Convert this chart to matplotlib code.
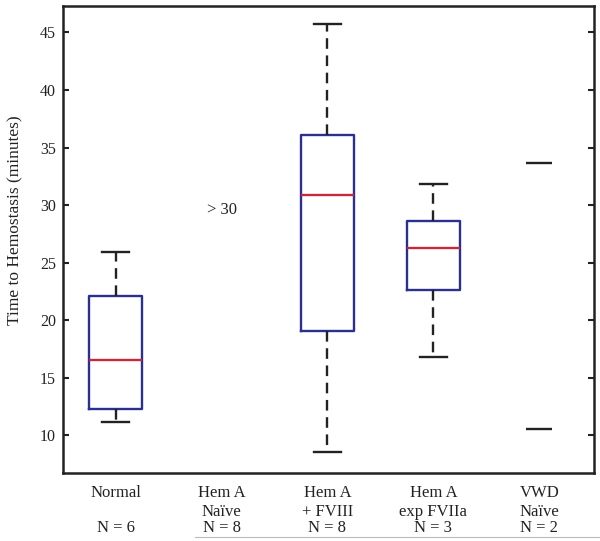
import matplotlib
matplotlib.use("Agg")
import matplotlib.pyplot as plt

# --- Data ---
groups = ['Normal', 'Hem A\nNaïve', 'Hem A\n+ FVIII', 'Hem A\nexp FVIIa', 'VWD\nNaïve']
n_labels = ['N = 6', 'N = 8', 'N = 8', 'N = 3', 'N = 2']

# box stats for groups with boxes (Normal, Hem A + FVIII, Hem A exp FVIIa)
box_pos = [1, 3, 4]
whislo = [11.2, 8.55, 16.8]
q1 = [12.25, 19.05, 22.6]
med = [16.55, 30.9, 26.3]
q3 = [22.1, 36.05, 28.6]
whishi = [25.95, 45.7, 31.85]

# VWD Naive: only two values
vwd_pos = 5
vwd_vals = [33.7, 10.55]

# Hem A Naive: all above 30 min
naive_pos = 2
naive_text = '> 30'
naive_y = 29.6

plt.rcParams['font.family'] = ['Liberation Serif', 'DejaVu Serif']

fig = plt.figure(figsize=(6.0, 5.41), dpi=100)
ax = fig.add_axes([0.1045, 0.125, 0.886, 0.864])

stats = []
for i in range(len(box_pos)):
    stats.append({'whislo': whislo[i], 'q1': q1[i], 'med': med[i],
                  'q3': q3[i], 'whishi': whishi[i], 'fliers': []})

ax.bxp(stats, positions=box_pos, widths=0.5, showfliers=False,
       boxprops=dict(color='#2b2f8f', linewidth=1.7),
       medianprops=dict(color='#c8283c', linewidth=1.7),
       whiskerprops=dict(color='#222222', linewidth=1.7, linestyle=(0, (4.5, 2.8))),
       capprops=dict(color='#222222', linewidth=1.7),
       capwidths=0.25)

ax.hlines(vwd_vals, vwd_pos - 0.125, vwd_pos + 0.125, color='#222222', linewidth=1.7)
ax.text(naive_pos, naive_y, naive_text, ha='center', va='center', fontsize=12, color='#222222')

ax.set_xlim(0.5, 5.52)
ax.set_ylim(6.7, 47.3)
ax.set_yticks([10, 15, 20, 25, 30, 35, 40, 45])
ax.set_xticks([])
ax.tick_params(axis='y', direction='in', length=4, width=1.5, right=True,
               labelsize=11.5, pad=5, colors='#222222')
for sp in ax.spines.values():
    sp.set_linewidth(1.8)
    sp.set_color('#222222')

# category labels under the axes
trans = ax.get_xaxis_transform()
for i, (g, n) in enumerate(zip(groups, n_labels)):
    lines = g.split('\n')
    ax.text(i + 1, -0.042, lines[0], transform=trans, ha='center', va='center',
            fontsize=12, color='#222222')
    if len(lines) > 1:
        ax.text(i + 1, -0.083, lines[1], transform=trans, ha='center', va='center',
                fontsize=12, color='#222222')
    ax.text(i + 1, -0.116, n, transform=trans, ha='center', va='center',
            fontsize=12, color='#222222')

fig.text(0.026, 0.593, 'Time to Hemostasis (minutes)', rotation=90,
         ha='center', va='center', fontsize=12.5, color='#222222')

# thin grey rule under the labels
fig.add_artist(plt.Line2D([195 / 600, 1.0], [1 - 537 / 541] * 2, color='#bbbbbb', linewidth=0.8))

fig.savefig('out.png', dpi=100)
